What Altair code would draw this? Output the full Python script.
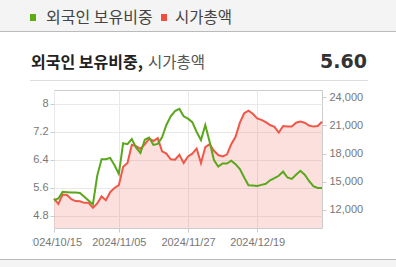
import altair as alt
import pandas as pd

# ---- data ----
dates = ["2024/10/15","2024/10/16","2024/10/17","2024/10/18","2024/10/21","2024/10/22","2024/10/23",
         "2024/10/24","2024/10/25","2024/10/28","2024/10/29","2024/10/30","2024/10/31","2024/11/01",
         "2024/11/04","2024/11/05","2024/11/06","2024/11/07","2024/11/08","2024/11/11","2024/11/12",
         "2024/11/13","2024/11/14","2024/11/15","2024/11/18","2024/11/19","2024/11/20","2024/11/21",
         "2024/11/22","2024/11/25","2024/11/26","2024/11/27","2024/11/28","2024/11/29","2024/12/02",
         "2024/12/03","2024/12/04","2024/12/05","2024/12/06","2024/12/09","2024/12/10","2024/12/11",
         "2024/12/12","2024/12/13","2024/12/16","2024/12/17","2024/12/18","2024/12/19","2024/12/20",
         "2024/12/23","2024/12/24","2024/12/26","2024/12/27","2024/12/30","2025/01/02","2025/01/03",
         "2025/01/06","2025/01/07","2025/01/08","2025/01/09","2025/01/10","2025/01/13","2025/01/14"]

foreign_ratio = [5.25,5.30,5.49,5.48,5.47,5.47,5.46,5.35,5.24,5.13,5.95,6.42,6.42,6.46,6.25,6.00,
                 6.88,6.85,7.00,6.75,6.60,6.98,7.04,6.83,6.86,7.05,7.40,7.65,7.80,7.86,7.65,7.58,
                 7.48,7.20,6.97,7.40,6.92,6.40,6.21,6.30,6.30,6.38,6.28,6.14,5.90,5.68,5.67,5.66,
                 5.69,5.72,5.82,5.88,5.95,6.07,5.90,5.86,5.98,6.09,5.98,5.80,5.65,5.60,5.60]

market_cap = [13200,12650,13650,13600,13150,12950,12930,12760,12760,12230,12700,13450,13050,13900,
              14350,14650,16600,17000,18940,18800,18500,19000,19600,19350,19650,18250,18000,17400,
              17350,17880,17000,17700,18000,18550,17000,18700,19000,18300,17850,17700,17900,19000,
              19800,21300,22300,22580,22250,21750,21600,21350,21050,20850,20250,20950,20900,20880,
              21300,21410,21300,21000,20880,20950,21400]

tick_idx = [0, 15, 31, 47]
tick_labels = ["2024/10/15", "2024/11/05", "2024/11/27", "2024/12/19"]
left_ticks = [4.8, 5.6, 6.4, 7.2, 8]
right_ticks = [12000, 15000, 18000, 21000, 24000]

series_names = ["외국인 보유비중", "시가총액"]
title_bold = "외국인 보유비중,"
title_rest = "시가총액"
last_value = "5.60"

GREEN = "#5ba71c"
RED = "#ef5849"
KR = "Noto Sans CJK KR"
AX = "Liberation Sans"

df = pd.DataFrame({"i": list(range(len(dates))), "date": dates,
                   "ratio": foreign_ratio, "cap": market_cap})

W, H = 268, 138
L, T = 54, 90
CAP_DOM = [10083, 24777]
RATIO_DOM = [4.457, 8.4]

label_expr = "".join(f"datum.value == {v} ? '{s}' : " for v, s in zip(tick_idx, tick_labels)) + "''"

x_axis = alt.Axis(values=tick_idx, labelExpr=label_expr, title=None, grid=True,
                  gridColor="#e9e9e9", domain=False, tickSize=4, tickColor="#cccccc",
                  labelPadding=4, labelFont=AX, labelFontSize=11, labelColor="#777777",
                  labelOverlap=False, labelFlush=False)
x_scale = alt.Scale(domain=[0, len(dates) - 1], nice=False, zero=False)

def xenc():
    return alt.X("i:Q", scale=x_scale, axis=x_axis)

right_axis = alt.Axis(orient="right", values=right_ticks, labelExpr="format(datum.value, ',')",
                      title=None, grid=False, domain=False, tickSize=4, tickColor="#cccccc",
                      labelPadding=3, labelFont=AX, labelFontSize=11, labelColor="#777777")
left_axis = alt.Axis(orient="left", values=left_ticks, labelExpr="'' + datum.value",
                     title=None, grid=True, gridColor="#e9e9e9", domain=False, tickSize=4,
                     tickColor="#cccccc", labelPadding=2, labelFont=AX, labelFontSize=11,
                     labelColor="#777777")

cap_scale = alt.Scale(domain=CAP_DOM, nice=False, zero=False)
ratio_scale = alt.Scale(domain=RATIO_DOM, nice=False, zero=False)

area = alt.Chart(df).mark_area(color=RED, opacity=0.19).encode(
    x=xenc(),
    y=alt.Y("cap:Q", scale=cap_scale, axis=right_axis),
    y2=alt.datum(CAP_DOM[0]),
)
red_line = alt.Chart(df).mark_line(color=RED, strokeWidth=2).encode(
    x=xenc(),
    y=alt.Y("cap:Q", scale=cap_scale, axis=right_axis),
)
red_layer = alt.layer(area, red_line)

green_line = alt.Chart(df).mark_line(color=GREEN, strokeWidth=2).encode(
    x=xenc(),
    y=alt.Y("ratio:Q", scale=ratio_scale, axis=left_axis),
)

one = pd.DataFrame({"k": [0]})

def rect(x, x2, y, y2, color):
    return alt.Chart(one).mark_rect(color=color).encode(
        x=alt.value(x - L), x2=alt.value(x2 - L), y=alt.value(y - T), y2=alt.value(y2 - T))

def rule(x, x2, y, color):
    return alt.Chart(one).mark_rule(color=color, strokeWidth=1).encode(
        x=alt.value(x - L), x2=alt.value(x2 - L), y=alt.value(y - T))

def text(s, x, y, size, color, weight="normal", align="left", font=KR):
    return alt.Chart(one).mark_text(text=s, align=align, baseline="middle", fontSize=size,
                                    fontWeight=weight, color=color, font=font).encode(
        x=alt.value(x - L), y=alt.value(y - T))

decor = alt.layer(
    rect(0, 396, 0, 31.5, "#f4f4f4"),
    rule(0, 396, 31.5, "#bbbbbb"),
    rect(30, 36, 14, 21, "#5aae0f"),
    text(series_names[0], 46, 18, 16, "#444444"),
    rect(161, 167, 14, 21, "#f04e3e"),
    text(series_names[1], 175, 18, 15.5, "#444444"),
    text(title_bold, 31, 63, 16, "#222222", weight="bold"),
    text(title_rest, 148, 63, 15.5, "#555555"),
    text(last_value, 367, 62, 19, "#333333", weight="bold", align="right", font="DejaVu Sans"),
    rule(30, 368, 80.5, "#dddddd"),
    rect(0, 32.5, 233, 252, "#ffffff"),
    rect(0, 396, 259.5, 267, "#f4f4f4"),
    rule(0, 396, 259.5, "#bbbbbb"),
)

chart = alt.layer(red_layer, green_line, decor).resolve_scale(y="independent").properties(
    width=W, height=H,
    autosize=alt.AutoSizeParams(type="none"),
    padding={"left": L, "top": T, "right": 396 - L - W, "bottom": 267 - T - H},
    background="#ffffff",
).configure_view(stroke="#cccccc", strokeWidth=1)

chart.save("out.html", embed_options={"renderer": "svg", "actions": False})
